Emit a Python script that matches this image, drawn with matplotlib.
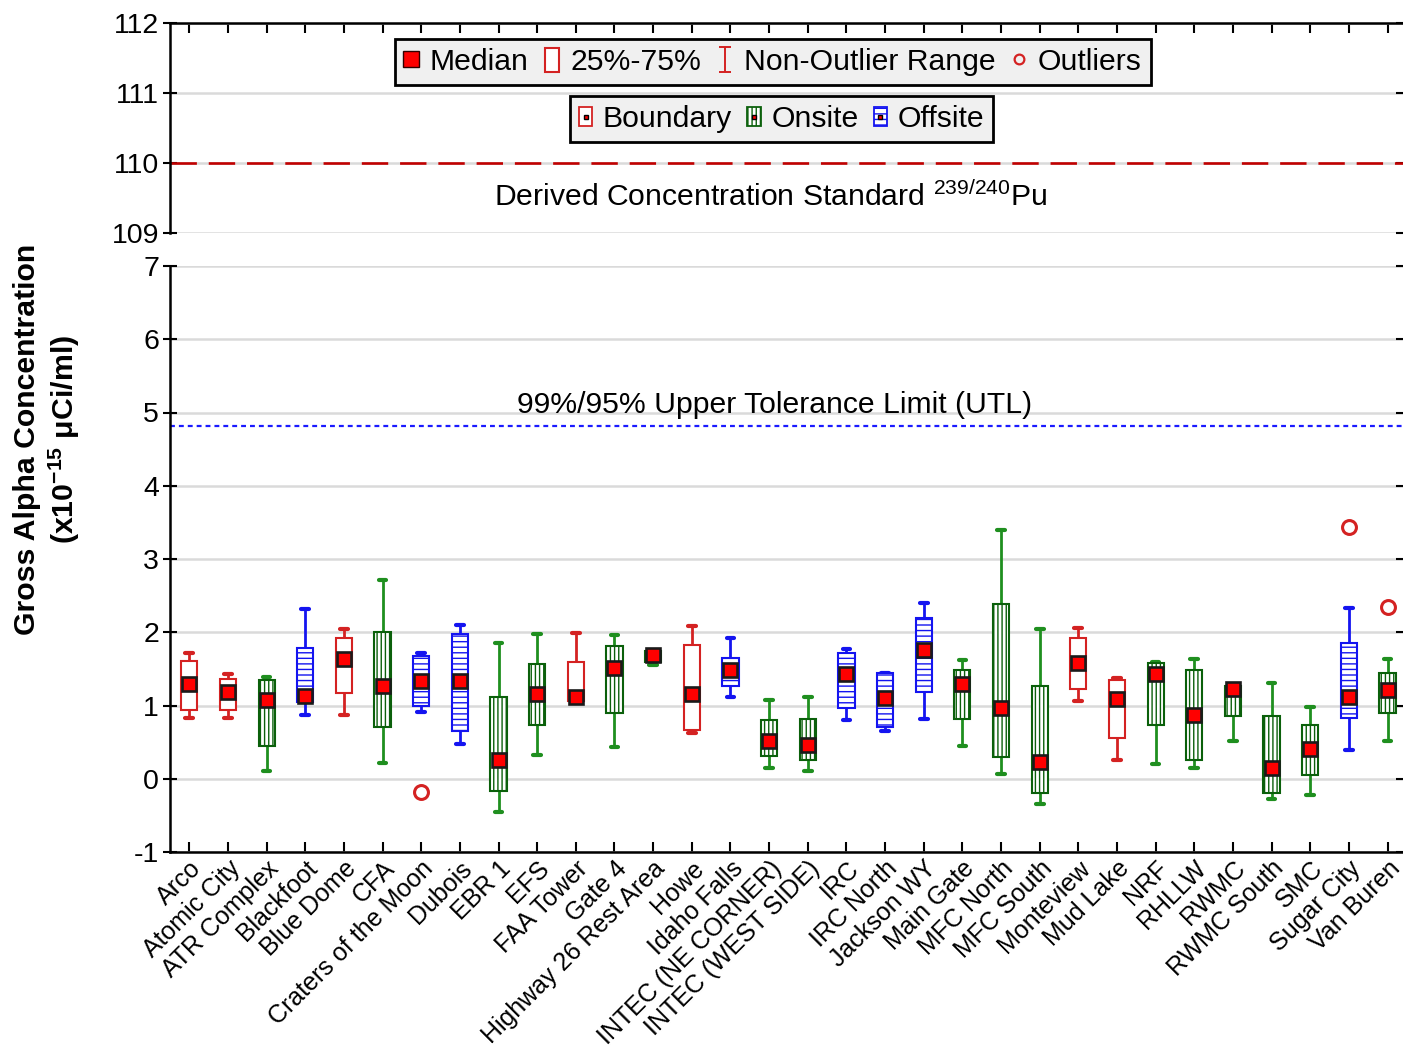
import matplotlib
matplotlib.use("Agg")
import matplotlib.pyplot as plt
from matplotlib.lines import Line2D
from matplotlib.patches import Rectangle
from matplotlib.path import Path
from matplotlib.legend_handler import HandlerTuple

plt.rcParams["font.family"] = ["Liberation Sans", "DejaVu Sans"]
plt.rcParams["mathtext.fontset"] = "custom"
plt.rcParams["mathtext.rm"] = "Liberation Sans"
plt.rcParams["mathtext.bf"] = "Liberation Sans:bold"
plt.rcParams["mathtext.it"] = "Liberation Sans:italic"
plt.rcParams["hatch.linewidth"] = 1.0
plt.rcParams["axes.unicode_minus"] = False

# sampling locations and their group
SITES = [
    "Arco", "Atomic City", "ATR Complex", "Blackfoot", "Blue Dome", "CFA",
    "Craters of the Moon", "Dubois", "EBR 1", "EFS", "FAA Tower", "Gate 4",
    "Highway 26 Rest Area", "Howe", "Idaho Falls", "INTEC (NE CORNER)",
    "INTEC (WEST SIDE)", "IRC", "IRC North", "Jackson WY", "Main Gate",
    "MFC North", "MFC South", "Monteview", "Mud Lake", "NRF", "RHLLW", "RWMC",
    "RWMC South", "SMC", "Sugar City", "Van Buren",
]
GROUP = [
    "Boundary", "Boundary", "Onsite", "Offsite", "Boundary", "Onsite",
    "Offsite", "Offsite", "Onsite", "Onsite", "Boundary", "Onsite",
    "Onsite", "Boundary", "Offsite", "Onsite",
    "Onsite", "Offsite", "Offsite", "Offsite", "Onsite",
    "Onsite", "Onsite", "Boundary", "Boundary", "Onsite", "Onsite", "Onsite",
    "Onsite", "Onsite", "Offsite", "Onsite",
]

# box statistics, x10^-15 uCi/ml
WHISKER_LO = [0.83, 0.83, 0.10, 0.87, 0.87, 0.21, 0.91, 0.48, -0.45, 0.33, 1.06, 0.44,
              1.55, 0.62, 1.11, 0.14, 0.10, 0.80, 0.65, 0.81, 0.45, 0.06, -0.34, 1.06,
              0.26, 0.20, 0.14, 0.51, -0.27, -0.22, 0.39, 0.51]
Q1 = [0.94, 0.94, 0.45, 1.05, 1.17, 0.71, 0.99, 0.65, -0.17, 0.74, 1.06, 0.90,
      1.60, 0.67, 1.26, 0.31, 0.26, 0.97, 0.70, 1.19, 0.81, 0.30, -0.20, 1.22,
      0.55, 0.74, 0.26, 0.86, -0.19, 0.05, 0.83, 0.90]
MEDIAN = [1.30, 1.18, 1.07, 1.13, 1.64, 1.26, 1.33, 1.34, 0.25, 1.16, 1.12, 1.51,
          1.69, 1.16, 1.48, 0.52, 0.46, 1.43, 1.10, 1.76, 1.29, 0.96, 0.23, 1.58,
          1.09, 1.43, 0.87, 1.23, 0.14, 0.41, 1.12, 1.21]
Q3 = [1.61, 1.36, 1.35, 1.78, 1.92, 2.00, 1.67, 1.97, 1.11, 1.56, 1.60, 1.81,
      1.74, 1.83, 1.65, 0.80, 0.81, 1.72, 1.44, 2.19, 1.49, 2.38, 1.27, 1.92,
      1.35, 1.58, 1.49, 1.27, 0.85, 0.74, 1.86, 1.44]
WHISKER_HI = [1.72, 1.43, 1.39, 2.32, 2.05, 2.71, 1.72, 2.10, 1.85, 1.97, 1.99, 1.96,
              1.74, 2.08, 1.92, 1.08, 1.11, 1.77, 1.45, 2.40, 1.62, 3.40, 2.05, 2.06,
              1.38, 1.59, 1.63, 1.28, 1.31, 0.98, 2.33, 1.63]
OUTLIERS = {"Craters of the Moon": [-0.18], "Sugar City": [3.44], "Van Buren": [2.35]}

DCS_PU = 110.0   # derived concentration standard, 239/240Pu
UTL = 4.82       # 99%/95% upper tolerance limit

STYLE = {
    "Boundary": {"edge": "#d42222", "line": "#d42222", "hatch": None},
    "Onsite": {"edge": "#0b600b", "line": "#1f8f1f", "hatch": "||||"},
    "Offsite": {"edge": "#1414f0", "line": "#1414f0", "hatch": "---"},
}
RED = "#d42222"
GRID = "#dadada"
FS_TICK = 20.5
FS_TEXT = 21.7

positions = list(range(1, len(SITES) + 1))

fig = plt.figure(figsize=(14.03, 10.51), dpi=100)
left, width = 170 / 1403, 1233 / 1403
ax_top = fig.add_axes([left, 1 - 233 / 1051, width, 210 / 1051])
ax = fig.add_axes([left, 1 - 852 / 1051, width, 586 / 1051])

for a in (ax_top, ax):
    a.set_xlim(0.5, 32.4)
    a.set_axisbelow(True)
    a.yaxis.grid(True, color=GRID, lw=1.8)
    a.spines["right"].set_visible(False)
    for s in a.spines.values():
        s.set_linewidth(1.8)
    a.tick_params(axis="y", which="both", direction="inout", length=10, width=1.5,
                  labelsize=FS_TICK, right=True, pad=3)
    a.set_xticks(positions)

# upper panel: the derived concentration standard
ax_top.set_ylim(109, 112)
ax_top.set_yticks([109, 110, 111, 112])
ax_top.spines["bottom"].set_visible(False)
ax_top.tick_params(axis="x", bottom=False, labelbottom=False, top=True,
                   direction="in", length=7, width=1.5)
ax_top.axhline(DCS_PU, color="#c00000", lw=1.9, linestyle=(0, (10, 4.5)), zorder=2)
ax_top.text(0.487, 109.52, r"Derived Concentration Standard $\mathregular{^{239/240}}$Pu",
            transform=ax_top.get_yaxis_transform(), ha="center", va="center",
            fontsize=FS_TEXT)

# lower panel: box plots per site
ax.set_ylim(-1, 7)
ax.set_yticks(range(-1, 8))
ax.spines["top"].set_visible(False)
ax.tick_params(axis="x", direction="in", length=7, width=1.5, labelsize=18, pad=3)

stats = []
for i, site in enumerate(SITES):
    stats.append({
        "label": site,
        "whislo": WHISKER_LO[i],
        "q1": Q1[i],
        "med": MEDIAN[i],
        "q3": Q3[i],
        "whishi": WHISKER_HI[i],
        "fliers": OUTLIERS.get(site, []),
    })

art = ax.bxp(stats, positions=positions, widths=0.42, capwidths=0.2,
             patch_artist=True, showfliers=True, manage_ticks=False,
             medianprops={"visible": False},
             flierprops={"marker": "o", "markersize": 10, "markerfacecolor": "none",
                         "markeredgecolor": RED, "markeredgewidth": 2.2})
for i, grp in enumerate(GROUP):
    st = STYLE[grp]
    box = art["boxes"][i]
    box.set_facecolor("white")
    box.set_edgecolor(st["edge"])
    box.set_linewidth(1.5)
    box.set_zorder(3)
    if st["hatch"]:
        box.set_hatch(st["hatch"])
    for ln in art["whiskers"][2 * i:2 * i + 2]:
        ln.set_color(st["line"])
        ln.set_linewidth(2.0)
        ln.set_zorder(2)
    for ln in art["caps"][2 * i:2 * i + 2]:
        ln.set_color(st["line"])
        ln.set_linewidth(3.0)
        ln.set_solid_capstyle("round")
        ln.set_zorder(2)

ax.plot(positions, MEDIAN, linestyle="none", marker="s", markersize=10,
        markerfacecolor="#ff0000", markeredgecolor="#1a1a1a", markeredgewidth=1.9,
        zorder=5)

ax.axhline(UTL, color="#1a1aff", lw=1.6, linestyle=(0, (2.2, 1.8)), zorder=2)
ax.text(0.49, 5.10, "99%/95% Upper Tolerance Limit (UTL)",
        transform=ax.get_yaxis_transform(), ha="center", va="center",
        fontsize=FS_TEXT)

ax.set_xticklabels(SITES, rotation=45, ha="right", va="top", rotation_mode="anchor")

fig.text(0.034, 0.582, "Gross Alpha Concentration\n"
         r"(x10$\mathbf{^{-15}}$ μCi/ml)",
         rotation=90, ha="center", va="center", multialignment="center",
         fontsize=21.8, fontweight="bold", linespacing=1.2)

# legends
ibeam = Path([(0, -1), (0, 1), (-0.45, 1), (0.45, 1), (-0.45, -1), (0.45, -1)],
             [Path.MOVETO, Path.LINETO, Path.MOVETO, Path.LINETO, Path.MOVETO, Path.LINETO])
h_median = Line2D([], [], linestyle="none", marker="s", markersize=11,
                  markerfacecolor="#ff0000", markeredgecolor="#300000", markeredgewidth=1.0)
h_box = Rectangle((0, 0), 1, 1, facecolor="white", edgecolor=RED, linewidth=1.5)
h_range = Line2D([], [], linestyle="none", marker=ibeam, markersize=18,
                 markeredgecolor=RED, markeredgewidth=1.4)
h_out = Line2D([], [], linestyle="none", marker="o", markersize=7,
               markerfacecolor="none", markeredgecolor=RED, markeredgewidth=1.6)
leg1 = ax_top.legend([h_median, h_box, h_range, h_out],
                     ["Median", "25%-75%", "Non-Outlier Range", "Outliers"],
                     loc="center", bbox_to_anchor=(0.489, 0.814), ncol=4,
                     fontsize=FS_TEXT, handlelength=0.45, handleheight=0.85,
                     handletextpad=0.4, columnspacing=0.55, borderpad=0.3,
                     borderaxespad=0, fancybox=False, framealpha=1,
                     facecolor="#f0f0f0", edgecolor="black")
leg1.get_frame().set_linewidth(2.0)
ax_top.add_artist(leg1)

group_handles = []
for grp in ["Boundary", "Onsite", "Offsite"]:
    st = STYLE[grp]
    patch = Rectangle((0, 0), 1, 1, facecolor="white", edgecolor=st["edge"],
                      linewidth=1.3, hatch=st["hatch"])
    dot = Line2D([], [], linestyle="none", marker="s", markersize=3.5,
                 markerfacecolor="#ff0000", markeredgecolor="black", markeredgewidth=1.0)
    group_handles.append((patch, dot))
leg2 = ax_top.legend(group_handles, ["Boundary", "Onsite", "Offsite"],
                     handler_map={tuple: HandlerTuple(ndivide=1)},
                     loc="center", bbox_to_anchor=(0.496, 0.543), ncol=3,
                     fontsize=FS_TEXT, handlelength=0.45, handleheight=0.6,
                     handletextpad=0.35, columnspacing=0.5, borderpad=0.3,
                     borderaxespad=0, fancybox=False, framealpha=1,
                     facecolor="#f0f0f0", edgecolor="black")
leg2.get_frame().set_linewidth(2.0)

fig.savefig("out.png", dpi=100)
